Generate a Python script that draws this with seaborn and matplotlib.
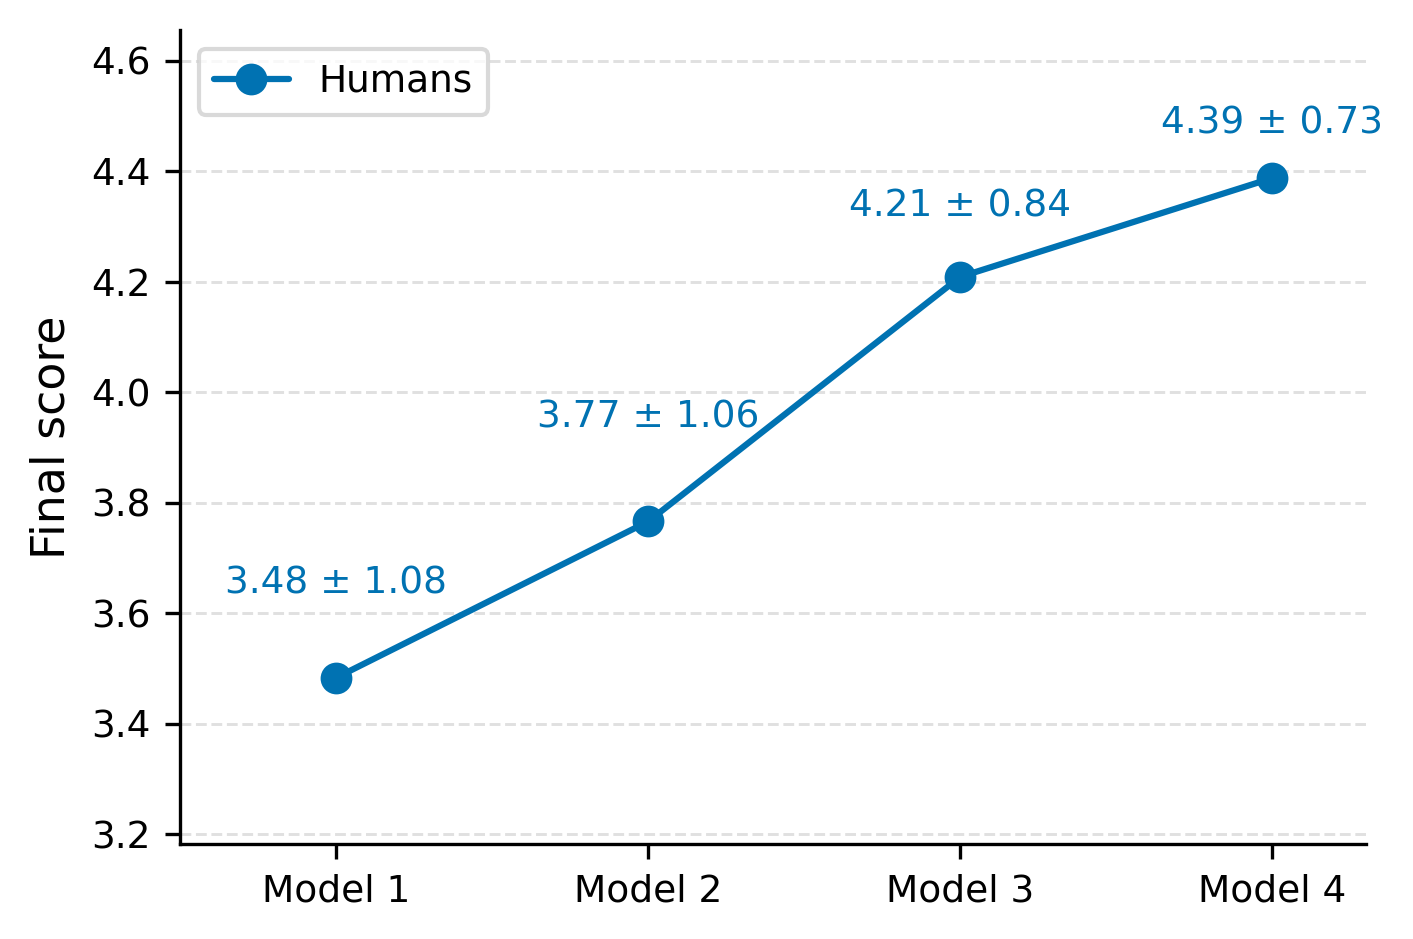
import matplotlib
matplotlib.use("Agg")
import matplotlib.pyplot as plt
import seaborn as sns
import pandas as pd

models = ["Model 1", "Model 2", "Model 3", "Model 4"]
means = [3.483, 3.766, 4.209, 4.388]
stds = [1.08, 1.06, 0.84, 0.73]
series_name = "Humans"

# layout only: vertical offset (points) of each annotation above its point
label_offsets_pt = [22.6, 24.9, 17.0, 13.1]

sns.set_style("ticks")
plt.rcParams['font.family'] = ['DejaVu Sans']
plt.rcParams['text.color'] = 'black'
plt.rcParams['axes.labelcolor'] = 'black'
plt.rcParams['xtick.color'] = 'black'
plt.rcParams['ytick.color'] = 'black'
plt.rcParams['axes.edgecolor'] = 'black'
color = "#0072B2"

df = pd.DataFrame({"model": models, "score": means, "series": series_name})

fig = plt.figure(figsize=(1413/300, 939/300), dpi=300)
ax = fig.add_axes([0.1274, 0.1012, 0.8393, 0.8668])

sns.pointplot(data=df, x="model", y="score", hue="series", palette=[color],
              markers="o", linestyles="-", ax=ax, errorbar=None,
              markersize=6.5, linewidth=1.5)

for i, (m, s, off) in enumerate(zip(means, stds, label_offsets_pt)):
    ax.annotate(f"{m:.2f} ± {s:.2f}", (i, m), xytext=(0, off), textcoords="offset points",
                ha="center", va="center", color=color, fontsize=9)

ax.set_xlim(-0.5, 3.3)
ax.set_ylim(3.182, 4.656)
ax.set_yticks([3.2, 3.4, 3.6, 3.8, 4.0, 4.2, 4.4, 4.6])
ax.set_ylabel("Final score", fontsize=11)
ax.set_xlabel("")
ax.tick_params(labelsize=9, width=0.8, length=3.5)
ax.yaxis.grid(True, linestyle="--", color="#e0e0e0", linewidth=0.7)
ax.set_axisbelow(True)
sns.despine(ax=ax)
for sp in ["left", "bottom"]:
    ax.spines[sp].set_linewidth(0.8)
leg = ax.legend(loc="upper left", fontsize=9, frameon=True, fancybox=True)
leg.get_frame().set_edgecolor("#d0d0d0")
leg.get_frame().set_linewidth(1.0)

fig.savefig("out.png", dpi=300)
